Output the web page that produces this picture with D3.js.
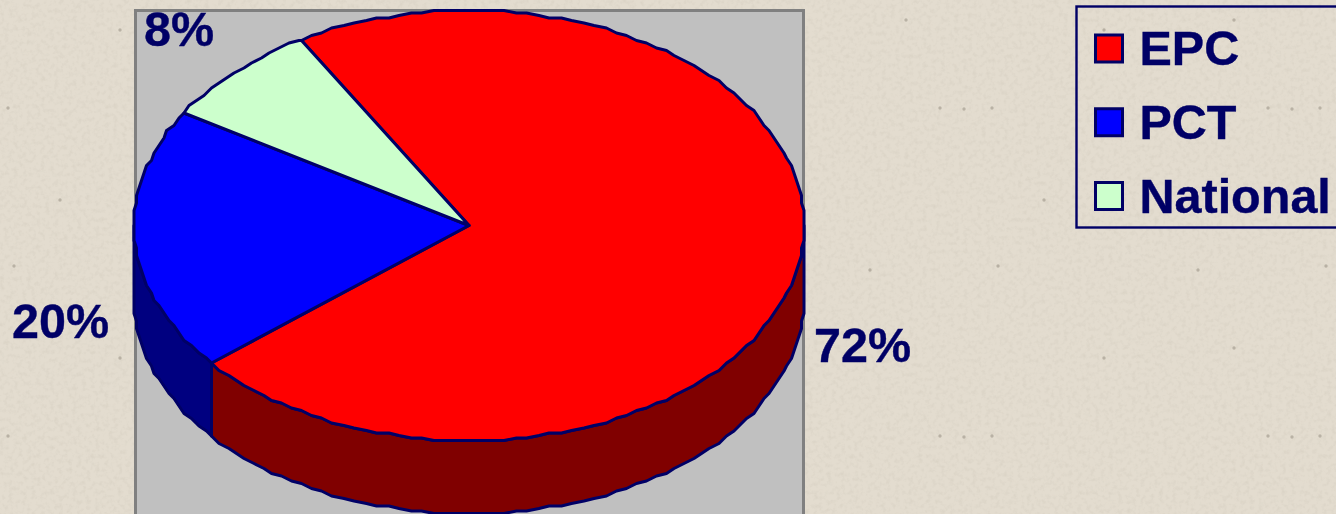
<!DOCTYPE html>
<html>
<head>
<meta charset="utf-8">
<script src="https://cdn.jsdelivr.net/npm/d3@7"></script>
<style>
  html, body { margin: 0; padding: 0; background: #e0d9cc; overflow: hidden; }
  svg { display: block; }
  text { font-family: "Liberation Sans", Arial, sans-serif; font-weight: bold; fill: #000066; stroke: #000066; stroke-width: 0.4px; }
</style>
</head>
<body>
<svg width="1336" height="514"></svg>
<script>
const categories = ["EPC", "PCT", "National"];
const values = [72.2, 19.9, 7.9];
const topColors = ["#ff0000", "#0000ff", "#ccffcc"];
const sideColors = ["#800000", "#000080", "#669966"];
const percentLabels = ["72%", "20%", "8%"];

const width = 1336, height = 514;
const navy = "#000066";

const svg = d3.select("svg");
const defs = svg.append("defs");

// paper texture of the slide background: soft blotches
const paper = defs.append("filter").attr("id", "paper")
  .attr("x", 0).attr("y", 0).attr("width", "100%").attr("height", "100%");
paper.append("feTurbulence").attr("type", "fractalNoise")
  .attr("baseFrequency", 0.22).attr("numOctaves", 3).attr("seed", 7);
paper.append("feColorMatrix").attr("values",
  "0 0 0 0 0.66  0 0 0 0 0.61  0 0 0 0 0.52  0 0 0 1.2 -0.52");
paper.append("feComposite").attr("in2", "SourceGraphic").attr("operator", "over");

svg.append("rect").attr("width", width).attr("height", height)
  .attr("fill", "#e3dccf").attr("filter", "url(#paper)");

// the darker specks repeat on a 328px tile in the original
const specks = [[8, 108], [14, 266], [214, 270], [284, 108], [308, 109], [120, 30], [60, 200], [250, 20]];
const tile = defs.append("pattern").attr("id", "specks")
  .attr("patternUnits", "userSpaceOnUse").attr("width", 328).attr("height", 328);
tile.selectAll("circle").data(specks).join("circle")
  .attr("cx", d => d[0]).attr("cy", d => d[1]).attr("r", 1.7)
  .attr("fill", "#8f887c").attr("opacity", 0.5);
svg.append("rect").attr("width", width).attr("height", height).attr("fill", "url(#specks)");

// plot area
svg.append("rect")
  .attr("x", 135.5).attr("y", 10.5)
  .attr("width", 668).attr("height", height + 20)
  .attr("fill", "#c0c0c0").attr("stroke", "#808080").attr("stroke-width", 3);

// pie geometry: a flat ellipse with a wall below it
const cx = 469, cy = 225.5, rx = 335, ry = 215, depth = 73;

const pie = d3.pie().sort(null)
  .startAngle(-30 * Math.PI / 180)
  .endAngle(330 * Math.PI / 180);
const slices = pie(values);

// the original rim is stepped from a low resolution source, so snap it to a small grid
const snap = 2.5;
const px = a => cx + Math.round(rx * Math.sin(a) / snap) * snap;
const py = a => cy - Math.round(ry * Math.cos(a) / snap) * snap;

const facet = 2 * Math.PI / 180;
function rim(a0, a1) {
  const pts = d3.range(a0, a1, facet);
  pts.push(a1);
  return pts;
}

const line = d3.line();
const g = svg.append("g");

// walls: only the front half of the rim (90deg to 270deg clockwise from top) shows
slices.forEach((s, i) => {
  const a0 = Math.max(s.startAngle, Math.PI / 2);
  const a1 = Math.min(s.endAngle, 3 * Math.PI / 2);
  if (a1 <= a0) return;
  const arc = rim(a0, a1);
  const upper = arc.map(a => [px(a), py(a)]);
  const lower = arc.slice().reverse().map(a => [px(a), py(a) + depth]);
  g.append("path")
    .attr("d", line(upper.concat(lower)) + "Z")
    .attr("fill", sideColors[i])
    .attr("stroke", navy).attr("stroke-width", 3).attr("stroke-linejoin", "round");
});

// top faces
slices.forEach((s, i) => {
  const pts = rim(s.startAngle, s.endAngle).map(a => [px(a), py(a)]);
  g.append("path")
    .attr("d", line([[cx, cy]].concat(pts)) + "Z")
    .attr("fill", topColors[i])
    .attr("stroke", navy).attr("stroke-width", 3).attr("stroke-linejoin", "round");
});

// percent labels
const labelX = d3.scaleOrdinal().domain(categories).range([814, 12, 144]);
const labelY = d3.scaleOrdinal().domain(categories).range([361.5, 338, 46]);
svg.selectAll("text.pct").data(categories).join("text")
  .attr("class", "pct")
  .attr("x", d => labelX(d)).attr("y", d => labelY(d))
  .attr("font-size", 48.5)
  .text((d, i) => percentLabels[i]);

// legend
const legendY = d3.scalePoint().domain(categories).range([48.5, 196]);
svg.append("rect")
  .attr("x", 1076.5).attr("y", 6.5)
  .attr("width", 300).attr("height", 221)
  .attr("fill", "none").attr("stroke", navy).attr("stroke-width", 2.4);

const legend = svg.selectAll("g.legend").data(categories).join("g")
  .attr("class", "legend")
  .attr("transform", d => `translate(0,${legendY(d)})`);
legend.append("rect")
  .attr("x", 1095.5).attr("y", -13.5).attr("width", 27).attr("height", 27)
  .attr("fill", (d, i) => topColors[i])
  .attr("stroke", navy).attr("stroke-width", 3);
legend.append("text")
  .attr("x", 1139.5).attr("y", 16.5)
  .attr("font-size", 48.5)
  .text(d => d);
</script>
</body>
</html>
